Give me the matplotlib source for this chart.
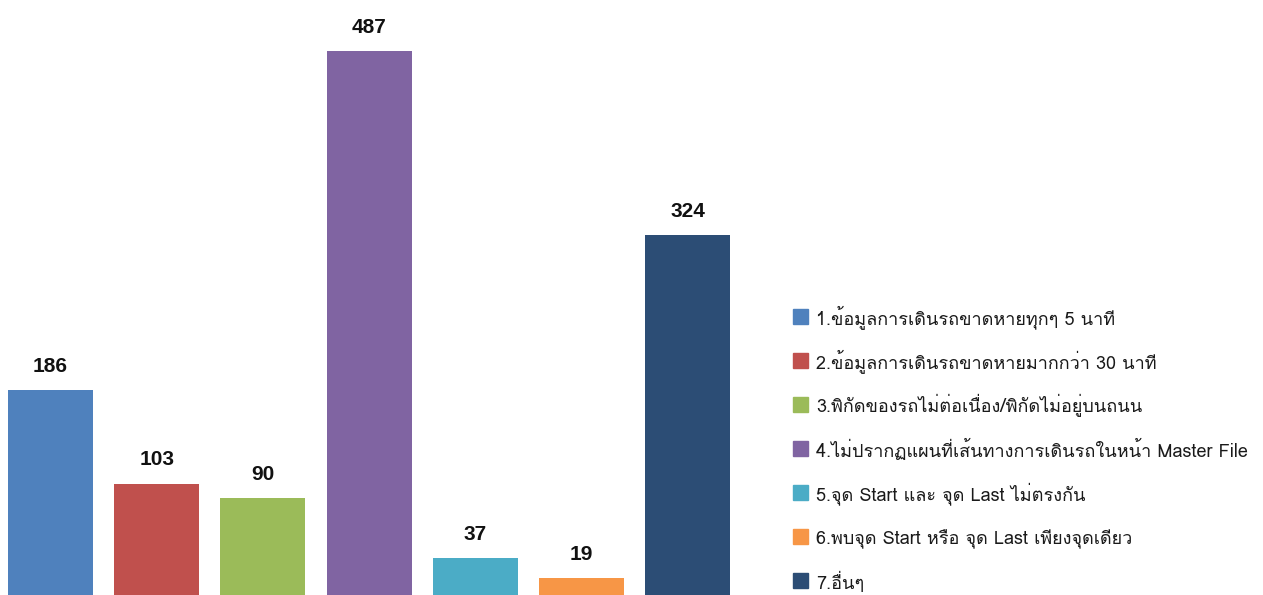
import matplotlib
matplotlib.use("Agg")
import matplotlib.pyplot as plt
from matplotlib import font_manager
from matplotlib.ft2font import FT2Font
from matplotlib.patches import Rectangle

labels = [
    "1.ข้อมูลการเดินรถขาดหายทุกๆ 5 นาที",
    "2.ข้อมูลการเดินรถขาดหายมากกว่า 30 นาที",
    "3.พิกัดของรถไม่ต่อเนื่อง/พิกัดไม่อยู่บนถนน",
    "4.ไม่ปรากฏแผนที่เส้นทางการเดินรถในหน้า Master File",
    "5.จุด Start และ จุด Last ไม่ตรงกัน",
    "6.พบจุด Start หรือ จุด Last เพียงจุดเดียว",
    "7.อื่นๆ",
]
values = [186, 103, 90, 487, 37, 19, 324]
colors = ["#4F81BD", "#C0504D", "#9BBB59", "#8064A2", "#4BACC6", "#F79646", "#2C4D75"]


def find_thai_font():
    # look for any installed font that has Thai glyphs
    names = []
    for f in font_manager.fontManager.ttflist:
        try:
            cmap = FT2Font(f.fname).get_charmap()
        except Exception:
            continue
        if ord("ก") in cmap and f.name not in names:
            names.append(f.name)
    return names


thai = find_thai_font()
plt.rcParams["font.family"] = thai[:1] + ["DejaVu Sans"]

W, H = 1263, 595
fig = plt.figure(figsize=(W / 100, H / 100), dpi=100)

# axes placed in pixel terms: 106.2 px per category, baseline a bit below the image
step = 106.2
px_per_unit = 1.126
left_px = 50.5 - step / 2
base_px = 599.5
ymax = 500
ax = fig.add_axes([left_px / W, (H - base_px) / H, 7 * step / W, ymax * px_per_unit / H])

x = range(len(values))
bars = ax.bar(x, values, width=0.8, color=colors)
for xi, v in zip(x, values):
    ax.annotate(str(v), (xi, v), xytext=(0, 13), textcoords="offset points",
                ha="center", va="baseline", fontsize=15, fontweight="bold",
                family=["Liberation Sans", "DejaVu Sans"], color="#111111")

ax.set_xlim(-0.5, 6.5)
ax.set_ylim(0, ymax)
ax.axis("off")

# legend drawn by hand so the rows keep an even 44 px pitch
sq = 15
for i, (lab, c) in enumerate(zip(labels, colors)):
    top = 309 + 44 * i
    fig.add_artist(Rectangle((793 / W, 1 - (top + sq) / H), sq / W, sq / H,
                             transform=fig.transFigure, color=c))
    fig.text(816 / W, 1 - (top + sq + 0.5) / H, lab, fontsize=13,
             va="baseline", ha="left", color="#1a1a1a")

fig.savefig("out.png", dpi=100)
